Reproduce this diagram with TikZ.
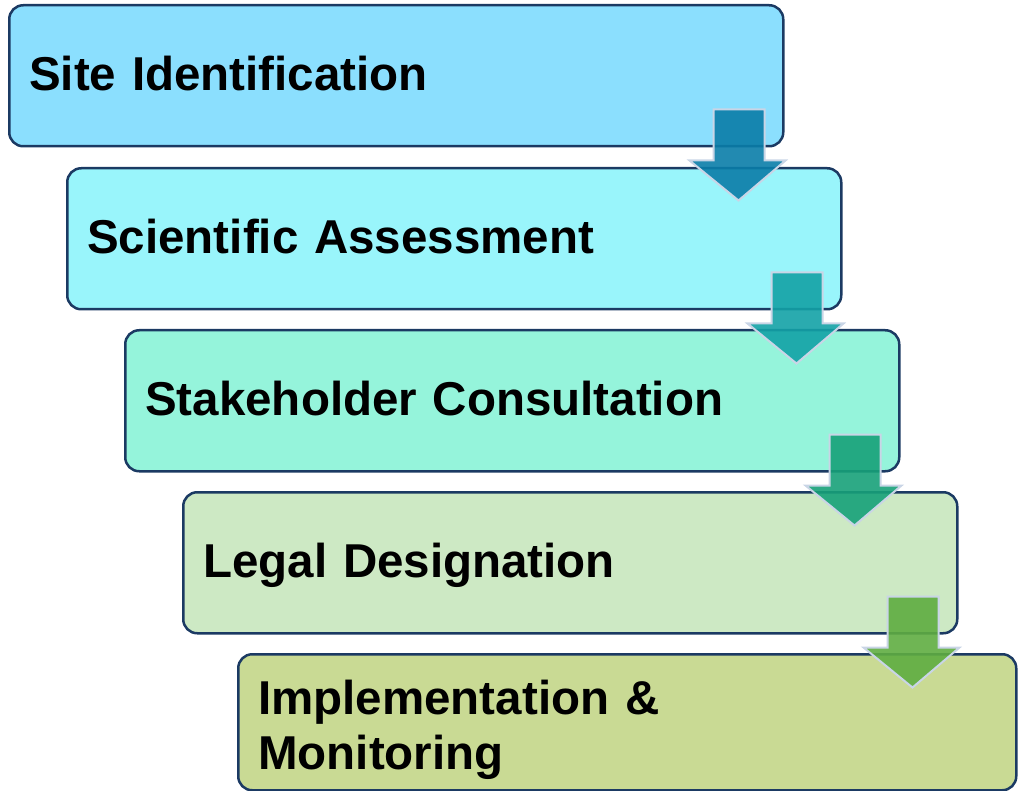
\documentclass[tikz,border=0pt]{standalone}
\usepackage{fontspec}
\setmainfont{Liberation Sans}
\usepackage{tikz}
\usetikzlibrary{calc}

\definecolor{boxline}{HTML}{1B3A63}
\definecolor{arrowedge}{HTML}{C9D5E6}
\definecolor{siteblue}{HTML}{8BDFFE}
\definecolor{scicyan}{HTML}{99F5FB}
\definecolor{stakemint}{HTML}{95F4DB}
\definecolor{legalgreen}{HTML}{CDE9C4}
\definecolor{implolive}{HTML}{C9DA94}
\definecolor{arrowA}{HTML}{0A7DA8}
\definecolor{arrowB}{HTML}{13A2A6}
\definecolor{arrowC}{HTML}{17A179}
\definecolor{arrowD}{HTML}{5FAD41}

\begin{document}
\begin{tikzpicture}[x=1pt,y=-1pt,
    stepbox/.style={rectangle, draw=boxline, line width=2.5pt, rounded corners=14pt,
        anchor=north west, text width=734pt, inner xsep=20pt, inner ysep=0pt,
        minimum height=141pt, align=left, text depth=5pt,
        font=\fontsize{47.5}{55}\selectfont\bfseries},
    downarrow/.style={draw=arrowedge, line width=2pt, fill opacity=0.9, line join=miter}]

    \useasboundingbox (0,0) rectangle (1022,791);

    \node (site)    [stepbox, fill=siteblue]   at (8,4)     {Site Identification};
    \node (science) [stepbox, fill=scicyan]    at (66,167)  {Scientific Assessment};
    \node (stake)   [stepbox, fill=stakemint]  at (124,329) {Stakeholder Consultation};
    \node (legal)   [stepbox, fill=legalgreen] at (182,491) {Legal Designation};
    \node (impl)    [stepbox, fill=implolive, text width=738pt, minimum height=136pt,
        text depth=50pt] at (237,653) {Implementation \&\\Monitoring};

    % block arrows between the steps
    \foreach \from/\col in {site/arrowA, science/arrowB, stake/arrowC, legal/arrowD}{
        \draw[downarrow, fill=\col, shift={(\from.south east)}]
            (-71,-38) -- (-20,-38) -- (-20,13) -- (1,13) -- (-46,53)
            -- (-95,13) -- (-71,13) -- cycle;
    }
\end{tikzpicture}
\end{document}
